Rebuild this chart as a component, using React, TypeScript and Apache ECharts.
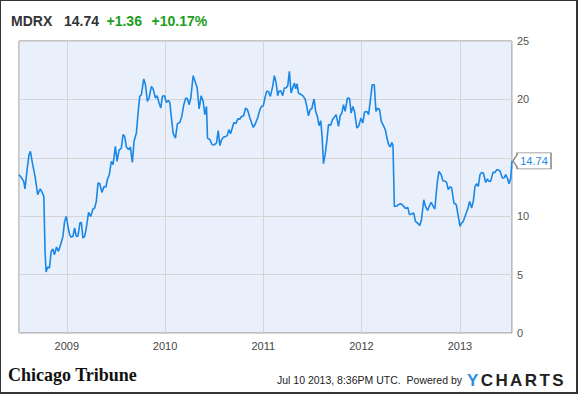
import React, { useEffect, useRef } from "react";
import * as echarts from "echarts";

const W = 578;
const H = 394;

// Header values
const ticker = "MDRX";
const lastPriceText = "14.74";
const changeText = "+1.36";
const changePctText = "+10.17%";

// Tick labels / footer
const stampText = "Jul 10 2013, 8:36PM UTC.  Powered by";
const logoText = "Chicago Tribune";
const brandLetters = ["Y", "C", "H", "A", "R", "T", "S"];

// Weekly prices, x as decimal year
const t2008 = [2008.514, 2008.541, 2008.562, 2008.575, 2008.596, 2008.616, 2008.63, 2008.653, 2008.677, 2008.704, 2008.728, 2008.745, 2008.766, 2008.779, 2008.789, 2008.806, 2008.823, 2008.841, 2008.857, 2008.874, 2008.895, 2008.915, 2008.936, 2008.96, 2008.977, 2008.994];
const p2008 = [13.55, 13.27, 12.98, 12.33, 13.98, 15.27, 15.55, 14.41, 13.41, 11.84, 12.33, 12.12, 11.7, 6.85, 5.22, 5.65, 5.56, 6.99, 7.19, 6.7, 7.36, 6.99, 7.56, 8.27, 9.56, 9.98];

const t2009 = [2009.011, 2009.028, 2009.045, 2009.062, 2009.079, 2009.096, 2009.113, 2009.133, 2009.147, 2009.164, 2009.181, 2009.198, 2009.221, 2009.242, 2009.266, 2009.283, 2009.3, 2009.317, 2009.334, 2009.357, 2009.378, 2009.398, 2009.412, 2009.432, 2009.453, 2009.47, 2009.494, 2009.511, 2009.531, 2009.555, 2009.572, 2009.589, 2009.606, 2009.63, 2009.647, 2009.667, 2009.684, 2009.708, 2009.725, 2009.742, 2009.759, 2009.783, 2009.8, 2009.82, 2009.837, 2009.861, 2009.878, 2009.902, 2009.919, 2009.939, 2009.956, 2009.973, 2009.994];
const p2009 = [9.13, 8.42, 8.19, 8.27, 8.99, 8.27, 8.3, 9.42, 9.47, 8.13, 8.27, 8.99, 10.33, 9.98, 10.62, 10.7, 11.27, 12.84, 12.8, 12.04, 12.55, 12.5, 13.12, 13.55, 14.69, 14.41, 15.98, 14.69, 15.64, 15.84, 16.98, 16.84, 15.92, 15.7, 15.92, 14.6, 16.41, 17.12, 18.83, 20.26, 20.4, 21.75, 21.26, 19.83, 20.12, 21.12, 20.9, 20.12, 20.32, 19.69, 19.26, 20.26, 20.32];

const t2010 = [2010.014, 2010.034, 2010.048, 2010.065, 2010.082, 2010.106, 2010.126, 2010.15, 2010.17, 2010.191, 2010.211, 2010.228, 2010.245, 2010.262, 2010.286, 2010.306, 2010.327, 2010.347, 2010.368, 2010.388, 2010.405, 2010.422, 2010.432, 2010.456, 2010.48, 2010.5, 2010.524, 2010.541, 2010.558, 2010.575, 2010.592, 2010.616, 2010.633, 2010.65, 2010.667, 2010.684, 2010.701, 2010.721, 2010.742, 2010.759, 2010.779, 2010.8, 2010.82, 2010.84, 2010.864, 2010.898, 2010.915, 2010.942, 2010.966, 2010.983];
const p2010 = [19.74, 19.91, 19.74, 18.4, 17.12, 16.69, 17.92, 18.03, 18.54, 19.55, 20.12, 20.05, 19.55, 20.12, 22.03, 21.54, 20.98, 19.18, 20.32, 19.83, 18.69, 19.4, 16.69, 16.55, 16.12, 16.1, 16.27, 17.32, 16.04, 16.55, 16.75, 16.83, 16.9, 17.41, 17.06, 17.55, 18.03, 17.92, 18.35, 18.3, 18.54, 18.6, 19.26, 19.1, 18.4, 17.6, 17.83, 18.4, 19.12, 19.4];

const t2011 = [2011.0, 2011.017, 2011.034, 2011.051, 2011.072, 2011.096, 2011.113, 2011.13, 2011.147, 2011.16, 2011.178, 2011.198, 2011.215, 2011.232, 2011.249, 2011.266, 2011.283, 2011.3, 2011.317, 2011.331, 2011.344, 2011.358, 2011.375, 2011.402, 2011.426, 2011.443, 2011.46, 2011.477, 2011.494, 2011.517, 2011.534, 2011.551, 2011.568, 2011.585, 2011.599, 2011.613, 2011.63, 2011.647, 2011.664, 2011.687, 2011.704, 2011.725, 2011.742, 2011.766, 2011.783, 2011.8, 2011.817, 2011.834, 2011.857, 2011.878, 2011.895, 2011.912, 2011.929, 2011.953, 2011.973, 2011.994];
const p2011 = [19.45, 20.12, 20.69, 20.7, 20.26, 21.12, 22.03, 21.46, 20.32, 20.69, 20.75, 20.32, 20.98, 20.98, 21.17, 22.4, 20.55, 20.98, 21.4, 20.9, 21.34, 20.55, 20.46, 20.32, 20.03, 19.4, 18.6, 19.12, 19.2, 20.03, 18.97, 18.54, 17.75, 18.18, 16.83, 14.5, 15.27, 16.41, 17.84, 17.78, 18.26, 18.49, 18.69, 17.69, 18.6, 18.83, 19.55, 18.97, 20.12, 20.1, 18.83, 19.4, 18.97, 17.55, 17.75, 18.4];

const t2012 = [2012.014, 2012.031, 2012.055, 2012.072, 2012.089, 2012.109, 2012.13, 2012.147, 2012.164, 2012.184, 2012.201, 2012.218, 2012.242, 2012.259, 2012.276, 2012.293, 2012.307, 2012.32, 2012.334, 2012.361, 2012.371, 2012.402, 2012.429, 2012.446, 2012.47, 2012.487, 2012.507, 2012.531, 2012.548, 2012.575, 2012.592, 2012.609, 2012.633, 2012.65, 2012.671, 2012.691, 2012.708, 2012.728, 2012.745, 2012.769, 2012.786, 2012.81, 2012.827, 2012.847, 2012.864, 2012.881, 2012.898, 2012.915, 2012.939, 2012.963, 2012.983];
const p2012 = [17.98, 18.92, 18.97, 18.69, 19.83, 21.26, 21.26, 18.97, 19.26, 19.12, 18.12, 17.84, 17.41, 16.69, 16.12, 15.92, 16.32, 16.04, 10.84, 10.87, 10.98, 11.07, 10.84, 10.67, 10.75, 10.13, 10.2, 10.27, 9.56, 9.36, 9.21, 9.7, 11.41, 10.84, 10.5, 10.9, 11.18, 10.84, 10.62, 12.84, 13.84, 13.55, 13.04, 13.0, 12.9, 12.27, 12.5, 12.45, 11.13, 10.98, 9.98];

const t2013 = [2013.0, 2013.017, 2013.034, 2013.058, 2013.082, 2013.099, 2013.119, 2013.136, 2013.153, 2013.17, 2013.187, 2013.204, 2013.221, 2013.238, 2013.262, 2013.279, 2013.296, 2013.313, 2013.337, 2013.357, 2013.375, 2013.392, 2013.409, 2013.432, 2013.449, 2013.466, 2013.483, 2013.5, 2013.517, 2013.53];
const p2013 = [9.13, 9.42, 9.56, 10.13, 10.7, 11.27, 10.7, 11.27, 12.55, 12.78, 12.55, 13.55, 13.75, 13.7, 12.89, 13.18, 12.98, 13.0, 13.75, 13.75, 13.98, 13.98, 13.84, 13.27, 13.27, 13.55, 13.27, 12.78, 13.27, 14.74];

const yTicks = { min: 0, max: 25, interval: 5 };

function decYearToTs(t: number): number {
  const y = Math.floor(t);
  const s = Date.UTC(y, 0, 1);
  const e = Date.UTC(y + 1, 0, 1);
  return s + (t - y) * (e - s);
}

const allT = [...t2008, ...t2009, ...t2010, ...t2011, ...t2012, ...t2013];
const allP = [...p2008, ...p2009, ...p2010, ...p2011, ...p2012, ...p2013];
const seriesData = allT.map((t, i) => [decYearToTs(t), allP[i]]);
const firstTs = seriesData[0][0] as number;
const lastTs = seriesData[seriesData.length - 1][0] as number;
const lastP = allP[allP.length - 1];

const SANS = '"Liberation Sans", Arial, Helvetica, sans-serif';
const LINE = "#1a87e6";
const GREEN = "#1b9e1b";

function measure(text: string, font: string): number {
  const c = document.createElement("canvas").getContext("2d");
  if (!c) return text.length * 10;
  c.font = font;
  return c.measureText(text).width;
}

function buildOption() {
  const headFont = `bold 14px ${SANS}`;
  const brandFont = `bold 17px ${SANS}`;
  const brandEls: any[] = [];
  let bx = 467;
  brandLetters.forEach((ch, i) => {
    brandEls.push({
      type: "text",
      x: bx,
      y: 380,
      silent: true,
      style: { text: ch, font: brandFont, fill: i === 0 ? "#2b8fe8" : "#222", textAlign: "left", textVerticalAlign: "middle" },
    });
    bx += measure(ch, brandFont) + 2.4;
  });

  return {
    animation: false,
    useUTC: true,
    backgroundColor: "#ffffff",
    grid: { left: 19, top: 41, width: 493, height: 292, show: true, backgroundColor: "#eaf0fb", borderColor: "#8a8a8a", borderWidth: 1, containLabel: false },
    xAxis: {
      type: "time",
      min: firstTs,
      max: lastTs,
      splitNumber: 5,
      minInterval: 360 * 86400000,
      axisLine: { show: false },
      axisTick: { show: false },
      splitLine: { show: true, lineStyle: { color: "#d5d5d5", width: 1 } },
      axisLabel: {
        color: "#444",
        fontSize: 11,
        fontFamily: SANS,
        margin: 7,
        showMinLabel: false,
        showMaxLabel: false,
        formatter: (v: number) => String(new Date(v).getUTCFullYear()),
      },
    },
    yAxis: {
      type: "value",
      position: "right",
      min: yTicks.min,
      max: yTicks.max,
      interval: yTicks.interval,
      axisLine: { show: false },
      axisTick: { show: false },
      splitLine: { show: true, lineStyle: { color: "#d5d5d5", width: 1 } },
      axisLabel: {
        color: "#555",
        fontSize: 11,
        fontFamily: SANS,
        margin: 5,
        // the last-price tag covers the tick label it sits on
        formatter: (v: number) => (Math.abs(v - lastP) < 1.5 ? "" : String(v)),
      },
    },
    series: [
      {
        type: "line",
        data: seriesData,
        showSymbol: false,
        symbol: "none",
        lineStyle: { color: LINE, width: 1.6 },
        itemStyle: { color: LINE },
        markPoint: {
          symbol: "path://M0,8 L4,2 L4,0 L38,0 L38,16 L4,16 L4,14 Z",
          symbolSize: [38, 16],
          symbolKeepAspect: false,
          symbolOffset: [20, 0],
          silent: true,
          itemStyle: { color: "#ffffff", borderColor: "#888", borderWidth: 1 },
          label: { show: true, position: "inside", offset: [2, 0], color: "#1e88e5", fontSize: 11, fontFamily: SANS, formatter: () => lastP.toFixed(2) },
          data: [{ coord: [lastTs, lastP] }],
        },
      },
    ],
    graphic: [
      { type: "text", x: 11, y: 21, silent: true, style: { text: ticker, font: headFont, fill: "#333", textAlign: "left", textVerticalAlign: "middle" } },
      { type: "text", x: 64, y: 21, silent: true, style: { text: lastPriceText, font: headFont, fill: "#333", textAlign: "left", textVerticalAlign: "middle" } },
      { type: "text", x: 106.5, y: 21, silent: true, style: { text: changeText, font: headFont, fill: GREEN, textAlign: "left", textVerticalAlign: "middle" } },
      { type: "text", x: 151.5, y: 21, silent: true, style: { text: changePctText, font: headFont, fill: GREEN, textAlign: "left", textVerticalAlign: "middle" } },
      { type: "text", x: 8, y: 375, silent: true, style: { text: logoText, font: `bold 18px "Liberation Serif", "DejaVu Serif", serif`, fill: "#111", textAlign: "left", textVerticalAlign: "middle" } },
      { type: "text", x: 462, y: 380, silent: true, style: { text: stampText, font: `10.5px ${SANS}`, fill: "#222", textAlign: "right", textVerticalAlign: "middle" } },
      ...brandEls,
    ],
  };
}

export default function App() {
  const ref = useRef<HTMLDivElement>(null);
  useEffect(() => {
    if (!ref.current) return;
    const chart = echarts.init(ref.current, null, { renderer: "svg", width: W, height: H });
    chart.setOption(buildOption() as any);
    return () => chart.dispose();
  }, []);
  return (
    <div style={{ position: "fixed", left: 0, top: 0, width: W, height: H, background: "#fff" }}>
      <div ref={ref} style={{ width: W, height: H }} />
      <div
        style={{
          position: "absolute",
          left: 0,
          top: 0,
          width: W,
          height: H,
          boxSizing: "border-box",
          borderStyle: "solid",
          borderColor: "#333",
          borderWidth: "1px 2px 2px 1px",
          pointerEvents: "none",
        }}
      />
    </div>
  );
}
